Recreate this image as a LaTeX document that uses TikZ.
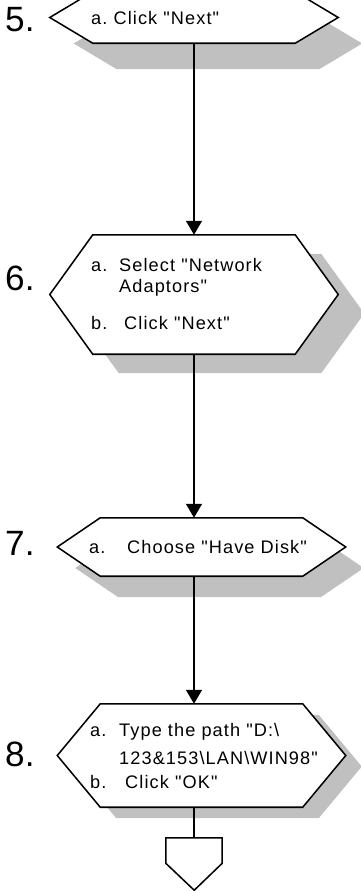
\documentclass[tikz,border=0pt]{standalone}
\usepackage{fontspec}
\newfontfamily\flowfont{Liberation Sans}[LetterSpace=6]
\newfontfamily\numfont{Liberation Sans}
\usetikzlibrary{arrows.meta}
\definecolor{shadowgray}{RGB}{192,192,192}
\tikzset{
  hexbox/.style={rectangle, inner sep=0pt, minimum width=60.6mm},
  hexline/.style={draw=black, line width=1.3pt, fill=white, line join=miter},
  hexshade/.style={fill=shadowgray},
  steptext/.style={anchor=west, inner sep=0pt, align=left, font=\flowfont\fontsize{15.5}{18}\selectfont},
  stepnum/.style={anchor=west, inner sep=0pt, font=\numfont\fontsize{30}{34}\selectfont},
  flowline/.style={line width=1.3pt},
  flowarrow/.style={flowline, -{Triangle[length=4.2mm, width=4.8mm]}},
  offpage/.style={rectangle, inner sep=0pt, minimum width=16.8mm, minimum height=7.5mm}
}
\newcommand{\hexoutline}[1]{(#1.north west) -- (#1.north east) -- ([xshift=12.9mm]#1.east) -- (#1.south east) -- (#1.south west) -- ([xshift=-12.9mm]#1.west) -- cycle}
\newcommand{\drawhex}[3]{%
  \fill[hexshade, transform canvas={xshift=#2*0.3mm, yshift=-#3*0.3mm}] \hexoutline{#1};
  \draw[hexline] \hexoutline{#1};}

\begin{document}
\begin{tikzpicture}[x=0.3mm, y=-0.3mm]
  \useasboundingbox (0,0) rectangle (361,891);
  \clip (0,0) rectangle (361,891);
  % step boxes
  \node[hexbox, minimum height=15.3mm] (h5) at (194,17.5) {};
  \node[hexbox, minimum height=35.7mm] (h6) at (194,294.5) {};
  \node[hexbox, minimum height=17.4mm] (h7) at (201.5,547) {};
  \node[hexbox, minimum height=30.9mm] (h8) at (201.5,755.5) {};
  \node[offpage] (off) at (194,850.5) {};
  \drawhex{h5}{24}{26}
  \drawhex{h6}{26}{19}
  \drawhex{h7}{18}{21}
  \drawhex{h8}{16}{11}
  \draw[hexline] (off.north west) -- (off.north east) -- (off.south east) -- ++(-28,27) -- (off.south west) -- cycle;
  % flow
  \draw[flowarrow] (h5.south) -- (h6.north);
  \draw[flowarrow] (h6.south) -- (h6.south |- h7.north);
  \draw[flowarrow] (h7.south -| h6.south) -- (h6.south |- h8.north);
  \draw[flowline] (h8.south -| off.north) -- (off.north);
  % step numbers
  \node[stepnum] (n5) at (5,20) {5.};
  \node[stepnum] (n6) at (5,278) {6.};
  \node[stepnum] (n7) at (5,543) {7.};
  \node[stepnum] (n8) at (5,754) {8.};
  % step texts
  \node[steptext] (t5) at (91,18) {a.~Click "Next"};
  \node[steptext] (t6) at (91,294) {\makebox[8.4mm][l]{a.}Select "Network\\
    \makebox[8.4mm]{}Adaptors"\\[4.8mm]
    \makebox[9.9mm][l]{b.}Click "Next"};
  \node[steptext] (t7) at (89,547) {\makebox[11.4mm][l]{a.}Choose "Have Disk"};
  \node[steptext] (t8) at (90,756) {\makebox[8.7mm][l]{a.}Type the path "D:\textbackslash\\[2.2mm]
    \makebox[8.7mm]{}123\&153\textbackslash LAN\textbackslash WIN98"\\[0.8mm]
    \makebox[10.5mm][l]{b.}Click "OK"};
\end{tikzpicture}
\end{document}
